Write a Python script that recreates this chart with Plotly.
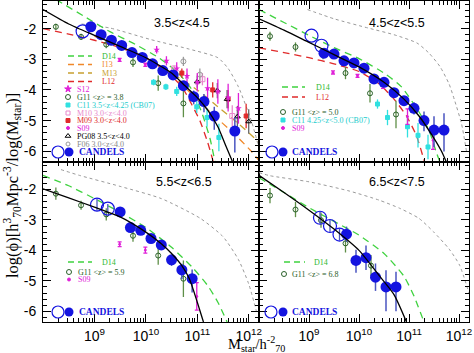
import math
import plotly.graph_objects as go

# ===================== DATA =====================
# x: log10(M_star / h70^-2), y: log(phi)

# ---------- 3.5<z<4.5 (top-left) ----------
z4_candels_m = [8.93, 9.13, 9.33, 9.53, 9.73, 9.93, 10.13, 10.33, 10.53, 10.73, 10.93, 11.13, 11.33, 11.73]
z4_candels_y = [-1.94, -2.20, -2.38, -2.55, -2.78, -2.94, -3.15, -3.37, -3.51, -3.86, -4.22, -4.38, -4.85, -5.34]
z4_candels_up = [0.05, 0.05, 0.05, 0.05, 0.05, 0.05, 0.06, 0.08, 0.10, 0.15, 0.20, 0.25, 0.30, 0.45]
z4_candels_lo = [0.05, 0.05, 0.05, 0.05, 0.05, 0.05, 0.06, 0.08, 0.10, 0.18, 0.25, 0.35, 0.45, 0.70]
z4_open_m = [8.77]
z4_open_y = [-2.09]
z4_fit_m = [8.0, 8.5, 9.0, 9.5, 10.0, 10.5, 10.75, 11.0, 11.2, 11.4, 11.55, 11.7]
z4_fit_y = [-1.38, -1.85, -2.22, -2.58, -2.95, -3.45, -3.85, -4.25, -4.65, -5.2, -5.8, -6.4]
z4_d14_m = [8.25, 8.8, 9.3, 9.8, 10.25, 10.6, 10.9, 11.1, 11.25, 11.35]
z4_d14_y = [-1.05, -1.6, -2.1, -2.52, -2.95, -3.4, -4.0, -4.8, -5.6, -6.4]
z4_i13_m = [9.0, 9.5, 10.0, 10.5, 10.9, 11.3, 11.7, 12.05, 12.2]
z4_i13_y = [-2.25, -2.6, -2.98, -3.5, -4.15, -4.8, -5.4, -6.0, -6.3]
z4_m13_m = [9.5, 10.0, 10.5, 11.0, 11.4, 11.8, 12.2]
z4_m13_y = [-2.6, -2.98, -3.45, -4.0, -4.55, -5.1, -5.7]
z4_l12_m = [8.0, 8.5, 9.0, 9.5, 10.0, 10.4, 10.7, 10.9, 11.05, 11.2, 11.32]
z4_l12_y = [-2.0, -2.18, -2.38, -2.62, -2.95, -3.4, -3.9, -4.5, -5.0, -5.7, -6.4]
z4_dot_m = [8.75, 9.3, 10.1, 10.8, 11.4, 11.6, 11.8, 12.05, 12.2]
z4_dot_y = [-1.85, -1.98, -2.36, -2.65, -2.95, -3.3, -3.9, -5.0, -5.9]
z4_g11_m = [8.25, 8.74, 9.23, 9.75, 10.24, 10.73]
z4_g11_y = [-1.94, -2.27, -2.52, -3.10, -3.78, -4.44]
z4_g11_e = [0.10, 0.10, 0.12, 0.15, 0.25, 0.45]
z4_s12_m = [10.21, 10.40, 10.60, 10.80, 11.00, 11.20, 11.40, 11.60, 11.80]
z4_s12_y = [-2.69, -3.05, -3.30, -3.55, -3.75, -3.95, -4.05, -4.25, -4.60]
z4_s12_e = [0.12, 0.15, 0.20, 0.25, 0.30, 0.35, 0.40, 0.45, 0.50]
z4_c11_m = [10.15, 10.39, 10.60, 10.99, 11.19, 11.42]
z4_c11_y = [-3.75, -3.90, -4.05, -4.55, -4.90, -5.55]
z4_c11_e = [0.10, 0.10, 0.15, 0.20, 0.30, 0.45]
z4_m10_m = [10.55, 11.10, 11.68]
z4_m10_y = [-3.30, -3.65, -4.85]
z4_m10_e = [0.10, 0.20, 0.35]
z4_m09_m = [10.70, 11.30, 11.60, 11.95]
z4_m09_y = [-3.45, -4.00, -4.30, -4.85]
z4_m09_e = [0.15, 0.25, 0.30, 0.40]
z4_s09_m = [9.49, 9.99]
z4_s09_y = [-3.02, -3.18]
z4_s09_e = [0.05, 0.05]
z4_pg08_m = [11.00, 11.39, 11.58, 11.78, 12.00]
z4_pg08_y = [-3.73, -4.02, -4.30, -4.87, -5.03]
z4_pg08_e = [0.20, 0.25, 0.30, 0.35, 0.40]
z4_f06_m = [10.73, 11.05]
z4_f06_y = [-3.07, -3.50]
z4_f06_e = [0.15, 0.20]

# ---------- 4.5<z<5.5 (top-right) ----------
z5_candels_m = [9.3, 9.5, 9.7, 9.9, 10.1, 10.3, 10.5, 10.7, 10.9, 11.1, 11.3, 11.5, 11.7]
z5_candels_y = [-2.80, -2.83, -3.05, -3.12, -3.29, -3.64, -3.75, -4.09, -4.35, -4.60, -5.00, -5.31, -5.31]
z5_candels_up = [0.05, 0.05, 0.05, 0.05, 0.06, 0.08, 0.10, 0.12, 0.15, 0.20, 0.30, 0.45, 0.55]
z5_candels_lo = [0.05, 0.05, 0.05, 0.05, 0.06, 0.08, 0.10, 0.12, 0.15, 0.20, 0.35, 0.55, 0.70]
z5_open_m = [9.05, 9.25]
z5_open_y = [-2.23, -2.56]
z5_fit_m = [8.0, 8.5, 9.0, 9.5, 10.0, 10.5, 10.9, 11.2, 11.45, 11.65, 11.76]
z5_fit_y = [-1.68, -2.05, -2.45, -2.85, -3.25, -3.75, -4.3, -4.85, -5.45, -6.0, -6.4]
z5_d14_m = [8.0, 8.5, 9.0, 9.5, 10.0, 10.5, 10.85, 11.2, 11.4, 11.55, 11.63]
z5_d14_y = [-1.38, -1.8, -2.22, -2.62, -2.98, -3.45, -3.9, -4.72, -5.32, -6.05, -6.4]
z5_l12_m = [8.0, 8.5, 9.0, 9.5, 10.0, 10.4, 10.7, 10.95, 11.15, 11.32]
z5_l12_y = [-2.63, -2.78, -2.95, -3.15, -3.4, -3.8, -4.3, -4.85, -5.5, -6.4]
z5_dot_m = [8.97, 9.5, 10.18, 10.7, 11.16, 11.4, 11.62, 11.8, 11.91, 12.05, 12.15]
z5_dot_y = [-1.38, -1.68, -1.98, -2.2, -2.47, -2.8, -3.24, -3.8, -4.33, -5.1, -6.0]
z5_g11_m = [8.22, 8.73, 9.28, 9.73, 10.22, 10.74]
z5_g11_y = [-2.25, -2.60, -2.85, -3.45, -4.11, -4.80]
z5_g11_e = [0.15, 0.15, 0.15, 0.20, 0.30, 0.45]
z5_c11_m = [10.37, 10.57, 10.97, 11.18, 11.38]
z5_c11_y = [-4.46, -4.90, -5.20, -5.48, -5.86]
z5_c11_e = [0.15, 0.25, 0.35, 0.40, 0.40]
z5_s09_m = [9.48, 9.97, 10.48, 10.97, 11.48]
z5_s09_y = [-3.43, -3.54, -3.87, -4.87, -5.64]
z5_s09_e = [0.05, 0.05, 0.08, 0.25, 0.30]

# ---------- 5.5<z<6.5 (bottom-left) ----------
z6_candels_m = [9.5, 9.7, 9.9, 10.1, 10.3, 10.5, 10.7, 10.9]
z6_candels_y = [-2.74, -3.25, -3.34, -3.61, -3.82, -4.31, -4.64, -4.93]
z6_candels_up = [0.15, 0.05, 0.05, 0.06, 0.08, 0.15, 0.20, 0.30]
z6_candels_lo = [0.15, 0.05, 0.05, 0.06, 0.10, 0.20, 0.30, 0.45]
z6_open_m = [9.05, 9.26]
z6_open_y = [-2.50, -2.63]
z6_open_e = [0.20, 0.15]
z6_fit_m = [8.0, 8.5, 9.0, 9.5, 10.0, 10.3, 10.5, 10.7, 10.85, 11.0, 11.12]
z6_fit_y = [-1.98, -2.28, -2.58, -2.9, -3.4, -3.78, -4.1, -4.5, -4.95, -5.7, -6.35]
z6_d14_m = [8.0, 8.5, 9.0, 9.5, 10.0, 10.5, 10.9, 11.2, 11.4, 11.58]
z6_d14_y = [-1.54, -1.88, -2.3, -2.75, -3.25, -3.9, -4.55, -5.15, -5.7, -6.35]
z6_dot_m = [8.35, 8.71, 9.5, 10.3, 11.06, 11.5, 11.8, 12.0, 12.15]
z6_dot_y = [-1.35, -1.54, -1.9, -2.3, -2.95, -3.55, -4.3, -5.1, -6.0]
z6_g11_m = [8.25, 8.74, 9.23, 9.75, 10.24, 10.73]
z6_g11_y = [-2.14, -2.52, -2.82, -3.52, -4.17, -4.93]
z6_g11_e = [0.20, 0.15, 0.20, 0.20, 0.30, 0.60]
z6_s09_m = [9.49, 9.99, 10.49, 10.99]
z6_s09_y = [-3.80, -3.99, -4.31, -5.51]
z6_s09_e = [0.08, 0.10, 0.12, 0.45]

# ---------- 6.5<z<7.5 (bottom-right) ----------
z7_candels_m = [9.75, 9.94, 10.14, 10.33, 10.54, 10.74]
z7_candels_y = [-3.47, -4.33, -4.24, -4.88, -5.20, -5.20]
z7_candels_up = [0.25, 0.35, 0.40, 0.45, 0.55, 0.50]
z7_candels_lo = [0.25, 0.40, 0.40, 0.45, 0.80, 0.80]
z7_open_m = [9.22, 9.42, 9.61]
z7_open_y = [-2.93, -3.20, -3.48]
z7_open_e = [0.20, 0.20, 0.20]
z7_fit_m = [8.0, 8.5, 9.0, 9.5, 10.0, 10.4, 10.7, 10.95]
z7_fit_y = [-1.54, -2.1, -2.68, -3.3, -4.0, -4.82, -5.45, -6.35]
z7_d14_m = [8.0, 8.5, 9.0, 9.5, 10.0, 10.5, 10.9, 11.1, 11.3]
z7_d14_y = [-1.62, -2.1, -2.6, -3.05, -3.5, -4.1, -4.85, -5.5, -6.35]
z7_dot_m = [8.0, 8.22, 9.0, 9.8, 10.4, 10.83, 11.2, 11.49, 11.8, 12.01, 12.2]
z7_dot_y = [-1.45, -1.55, -1.75, -2.05, -2.35, -2.63, -2.95, -3.39, -3.95, -4.48, -5.4]
z7_g11_m = [8.22, 8.73, 9.24, 9.73, 10.24]
z7_g11_y = [-2.20, -2.66, -3.01, -3.77, -4.50]
z7_g11_e = [0.25, 0.25, 0.25, 0.30, 0.35]

# tick labels
x_tickvals_log = [9, 10, 11, 12]
x_ticktext = ['10<sup>9</sup>', '10<sup>10</sup>', '10<sup>11</sup>', '10<sup>12</sup>']
y_tickvals = [-2, -3, -4, -5, -6]
y_ticktext = ['-2', '-3', '-4', '-5', '-6']
panel_labels = ['3.5<z<4.5', '4.5<z<5.5', '5.5<z<6.5', '6.5<z<7.5']

# ===================== STYLE / LAYOUT =====================
W, H = 474, 353
X0, X1, Y0, Y1 = 43, 469, 1, 322
XS, YS = 259, 162

C_BLUE = '#1414e0'
C_BLUE_ERR = '#4a55c0'
C_GREEN = '#3fd23f'
C_GREEN_T = '#2fb82f'
C_ORANGE = '#f0882a'
C_GOLD = '#c8a030'
C_RED = '#e02a2a'
C_MAG = '#e020d8'
C_DKGREEN = '#2a602a'
C_DKGREEN_ERR = '#5f8f48'
C_CYAN = '#30e0e0'
C_PINK = '#e888cc'
C_GRAY = '#9a9a9a'


def fx(px):
    return (px - X0) / (X1 - X0)


def fy(py):
    return (Y1 - py) / (Y1 - Y0)


def X(ms):
    return [10 ** m for m in ms]


fig = go.Figure()

axes = [('x', 'y'), ('x2', 'y2'), ('x3', 'y3'), ('x4', 'y4')]


def add_line(p, ms, ys, color, dash=None, width=1.3):
    xa, ya = axes[p]
    fig.add_trace(go.Scatter(x=X(ms), y=ys, mode='lines', xaxis=xa, yaxis=ya,
                             line=dict(color=color, width=width, dash=dash, shape='spline', smoothing=0.6),
                             hoverinfo='skip', showlegend=False))


def add_pts(p, ms, ys, symbol, color, size, err=None, errcolor=None, lo=None, cap=0, lw=1.0, ethick=1.3):
    xa, ya = axes[p]
    ey = None
    if err is not None:
        ey = dict(type='data', symmetric=lo is None, array=err, arrayminus=lo,
                  color=errcolor or color, thickness=ethick, width=cap)
    fig.add_trace(go.Scatter(x=X(ms), y=ys, mode='markers', xaxis=xa, yaxis=ya,
                             marker=dict(symbol=symbol, color=color, size=size,
                                         line=dict(color=color, width=lw)),
                             error_y=ey, hoverinfo='skip', showlegend=False))


DASH = '7px,5px'

# ---- panel 0: z4 ----
add_line(0, z4_dot_m, z4_dot_y, C_GRAY, 'dot', 1.0)
add_line(0, z4_i13_m, z4_i13_y, C_ORANGE, DASH)
add_line(0, z4_m13_m, z4_m13_y, C_GOLD, DASH)
add_line(0, z4_l12_m, z4_l12_y, C_RED, DASH)
add_line(0, z4_d14_m, z4_d14_y, C_GREEN, DASH)
add_pts(0, z4_g11_m, z4_g11_y, 'circle-open', C_DKGREEN, 5, z4_g11_e, C_DKGREEN_ERR)
add_pts(0, z4_c11_m, z4_c11_y, 'square', C_CYAN, 4, z4_c11_e, C_CYAN)
add_pts(0, z4_m10_m, z4_m10_y, 'square-open', C_PINK, 5, z4_m10_e, C_PINK)
add_pts(0, z4_f06_m, z4_f06_y, 'circle-open', C_GRAY, 5, z4_f06_e, C_GRAY)
add_pts(0, z4_m09_m, z4_m09_y, 'square', C_RED, 4, z4_m09_e, C_RED)
add_pts(0, z4_pg08_m, z4_pg08_y, 'triangle-up-open', 'black', 5, z4_pg08_e, '#666666')
add_pts(0, z4_s12_m, z4_s12_y, 'star', C_MAG, 5, z4_s12_e, C_MAG, lw=0)
add_pts(0, z4_s09_m, z4_s09_y, 'circle', C_MAG, 2, z4_s09_e, C_MAG, cap=2)
add_pts(0, z4_candels_m, z4_candels_y, 'circle', C_BLUE, 11, z4_candels_up, C_BLUE_ERR, lo=z4_candels_lo, lw=0, ethick=1.5)
add_pts(0, z4_open_m, z4_open_y, 'circle-open', C_BLUE, 13, lw=1.2)
add_line(0, z4_fit_m, z4_fit_y, 'black', None, 1.3)

# ---- panel 1: z5 ----
add_line(1, z5_dot_m, z5_dot_y, C_GRAY, 'dot', 1.0)
add_line(1, z5_l12_m, z5_l12_y, C_RED, DASH)
add_line(1, z5_d14_m, z5_d14_y, C_GREEN, DASH)
add_pts(1, z5_g11_m, z5_g11_y, 'circle-open', C_DKGREEN, 5, z5_g11_e, C_DKGREEN_ERR)
add_pts(1, z5_c11_m, z5_c11_y, 'square', C_CYAN, 4, z5_c11_e, C_CYAN)
add_pts(1, z5_s09_m, z5_s09_y, 'circle', C_MAG, 2, z5_s09_e, C_MAG, cap=2)
add_pts(1, z5_candels_m, z5_candels_y, 'circle', C_BLUE, 11, z5_candels_up, C_BLUE_ERR, lo=z5_candels_lo, lw=0, ethick=1.5)
add_pts(1, z5_open_m, z5_open_y, 'circle-open', C_BLUE, 13, lw=1.2)
add_line(1, z5_fit_m, z5_fit_y, 'black', None, 1.3)

# ---- panel 2: z6 ----
add_line(2, z6_dot_m, z6_dot_y, C_GRAY, 'dot', 1.0)
add_line(2, z6_d14_m, z6_d14_y, C_GREEN, DASH)
add_pts(2, z6_g11_m, z6_g11_y, 'circle-open', C_DKGREEN, 5, z6_g11_e, C_DKGREEN_ERR)
add_pts(2, z6_s09_m, z6_s09_y, 'circle', C_MAG, 2, z6_s09_e, C_MAG, cap=2)
add_pts(2, z6_candels_m, z6_candels_y, 'circle', C_BLUE, 11, z6_candels_up, C_BLUE_ERR, lo=z6_candels_lo, lw=0, ethick=1.5)
add_pts(2, z6_open_m, z6_open_y, 'circle-open', C_BLUE, 13, z6_open_e, C_BLUE_ERR, lw=1.2)
add_line(2, z6_fit_m, z6_fit_y, 'black', None, 1.3)

# ---- panel 3: z7 ----
add_line(3, z7_dot_m, z7_dot_y, C_GRAY, 'dot', 1.0)
add_line(3, z7_d14_m, z7_d14_y, C_GREEN, DASH)
add_pts(3, z7_g11_m, z7_g11_y, 'circle-open', C_DKGREEN, 5, z7_g11_e, C_DKGREEN_ERR)
add_pts(3, z7_candels_m, z7_candels_y, 'circle', C_BLUE, 11, z7_candels_up, C_BLUE_ERR, lo=z7_candels_lo, lw=0, ethick=1.5)
add_pts(3, z7_open_m, z7_open_y, 'circle-open', C_BLUE, 13, z7_open_e, C_BLUE_ERR, lw=1.2)
add_line(3, z7_fit_m, z7_fit_y, 'black', None, 1.3)

# ---- axes ----
minor_x = [k * 10 ** d for d in range(8, 13) for k in range(2, 10) if 8 <= d + math.log10(k) <= 12.2]

xdoms = [[0, fx(XS)], [fx(XS), 1], [0, fx(XS)], [fx(XS), 1]]
ydoms = [[fy(YS), 1], [fy(YS), 1], [0, fy(YS)], [0, fy(YS)]]

tickfont = dict(family='Liberation Sans, Arial, sans-serif', size=14, color='black')
layout_axes = {}
for i in range(4):
    sx = '' if i == 0 else str(i + 1)
    layout_axes['xaxis' + sx] = dict(
        domain=xdoms[i], anchor='y' + sx, type='log', range=[8, 12.2],
        tickmode='array', tickvals=[10 ** v for v in x_tickvals_log], ticktext=x_ticktext,
        showticklabels=(i >= 2), ticks='inside', ticklen=8, tickwidth=1, tickcolor='black',
        minor=dict(ticks='inside', ticklen=4, tickwidth=1, tickcolor='black', tickmode='array', tickvals=minor_x),
        showline=True, linecolor='black', linewidth=1, mirror='allticks',
        showgrid=False, zeroline=False, tickfont=tickfont, ticklabelstandoff=1)
    layout_axes['yaxis' + sx] = dict(
        domain=ydoms[i], anchor='x' + sx, range=[-6.35, -1.1],
        tickmode='array', tickvals=y_tickvals, ticktext=y_ticktext,
        showticklabels=(i in (0, 2)), ticks='inside', ticklen=8, tickwidth=1, tickcolor='black',
        minor=dict(ticks='inside', ticklen=4, tickwidth=1, tickcolor='black', dtick=0.2, tick0=0),
        showline=True, linecolor='black', linewidth=1, mirror='allticks',
        showgrid=False, zeroline=False, tickfont=tickfont, ticklabelstandoff=3)

# pixel overlay axes for legend keys
layout_axes['xaxis5'] = dict(domain=[0, 1], anchor='y5', range=[X0, X1], visible=False, fixedrange=True)
layout_axes['yaxis5'] = dict(domain=[0, 1], anchor='x5', range=[Y1, Y0], visible=False, fixedrange=True)

fig.update_layout(width=W, height=H, margin=dict(l=X0, r=W - X1, t=Y0, b=H - Y1),
                  paper_bgcolor='white', plot_bgcolor='rgba(0,0,0,0)', showlegend=False,
                  **layout_axes)

SERIF = 'Liberation Serif, Times New Roman, serif'
SANS = 'Liberation Sans, Arial, sans-serif'
annots = []
shapes = []
LEG = 8


def txt(px, py, s, color, size=LEG, family=SERIF, anchor='left', **kw):
    annots.append(dict(x=px, y=py, xref='x5', yref='y5', text=s, showarrow=False,
                       xanchor=anchor, yanchor='middle', font=dict(family=family, size=size, color=color), **kw))


def dline(px0, px1, py, color):
    shapes.append(dict(type='line', xref='x5', yref='y5', x0=px0, x1=px1, y0=py, y1=py,
                       line=dict(color=color, width=1.3, dash='6px,4px')))


def key(px, py, symbol, color, size, lw=1.0):
    fig.add_trace(go.Scatter(x=[px], y=[py], mode='markers', xaxis='x5', yaxis='y5',
                             marker=dict(symbol=symbol, color=color, size=size, line=dict(color=color, width=lw)),
                             hoverinfo='skip', showlegend=False))


def candels_key(px_open, px_fill, px_text, py):
    key(px_open, py, 'circle-open', C_BLUE, 12, 1.2)
    key(px_fill, py, 'circle', C_BLUE, 9, 0)
    txt(px_text, py, '<b>CANDELS</b>', C_BLUE, 9.5)


# top-left legend
dline(68, 92, 56, C_GREEN); txt(100, 56, 'D14', C_GREEN_T)
dline(68, 92, 64.5, C_ORANGE); txt(100, 64.5, 'I13', C_ORANGE)
dline(68, 92, 73, C_GOLD); txt(100, 73, 'M13', C_GOLD)
dline(68, 92, 81.5, C_RED); txt(100, 81.5, 'L12', C_RED)
rows = [
    (89, 'star', C_MAG, 5, 'S12', C_MAG),
    (97, 'circle-open', C_DKGREEN, 5, 'G11 &lt;z&gt; = 3.8', C_DKGREEN),
    (105, 'square', C_CYAN, 4, 'C11 3.5&lt;z&lt;4.25 (CB07)', '#22cccc'),
    (113, 'square-open', C_PINK, 4, 'M10 3.0&lt;z&lt;4.0', C_PINK),
    (120.5, 'square', C_RED, 4, 'M09 3.0&lt;z&lt;4.0', C_RED),
    (128, 'circle', C_MAG, 3, 'S09', C_MAG),
    (136, 'triangle-up-open', 'black', 5, 'PG08 3.5&lt;z&lt;4.0', 'black'),
    (144, 'circle-open', C_GRAY, 4, 'F06 3.0&lt;z&lt;4.0', '#888888'),
]
for py, sym, col, sz, label, tcol in rows:
    key(68, py, sym, col, sz)
    txt(75, py, label, tcol)
candels_key(58, 69, 77, 152)

# top-right legend
dline(282, 305, 87, C_GREEN); txt(314, 87, 'D14', C_GREEN_T)
dline(282, 305, 97, C_RED); txt(314, 97, 'L12', C_RED)
key(283, 112, 'circle-open', C_DKGREEN, 5); txt(290, 112, 'G11 &lt;z&gt; = 5.0', C_DKGREEN)
key(283, 120, 'square', C_CYAN, 4); txt(290, 120, 'C11 4.25&lt;z&lt;5.0 (CB07)', '#22cccc')
key(283, 128, 'circle', C_MAG, 3); txt(290, 128, 'S09', C_MAG)
candels_key(272, 283, 290, 152)

# bottom-left legend
dline(68, 92, 262, C_GREEN); txt(100, 262, 'D14', C_GREEN_T)
key(69, 272, 'circle-open', C_DKGREEN, 5); txt(76, 272, 'G11 &lt;z&gt; = 5.9', C_DKGREEN)
key(69, 279.5, 'circle', C_MAG, 3); txt(76, 279.5, 'S09', C_MAG)
candels_key(58, 69, 77, 312)

# bottom-right legend
dline(284, 305, 262, C_GREEN); txt(312, 262, 'D14', C_GREEN_T)
key(284, 274, 'circle-open', C_DKGREEN, 5); txt(290, 274, 'G11 &lt;z&gt; = 6.8', C_DKGREEN)
candels_key(271, 283, 290, 312)

# panel labels
for (px, py), lab in zip([(182, 23), (397, 23), (184, 182), (397, 182)], panel_labels):
    txt(px, py, lab, 'black', 12.5, SANS, anchor='center')

# axis titles (paper coordinates = plot-area fractions)
annots.append(dict(x=fx(12), y=fy(186), xref='paper', yref='paper', xanchor='center', yanchor='middle',
                   text='log(ϕ)[h<sup>3</sup><sub>70</sub>Mpc<sup>-3</sup>/log(M<sub>star</sub>)]',
                   textangle=-90, showarrow=False, font=dict(family=SERIF, size=16.5, color='black')))
annots.append(dict(x=fx(256), y=fy(343.5), xref='paper', yref='paper', xanchor='center', yanchor='middle',
                   text='M<sub>star</sub>/h<sup>-2</sup><sub>70</sub>', showarrow=False,
                   font=dict(family=SERIF, size=14.5, color='black')))

fig.update_layout(annotations=annots, shapes=shapes)
fig.write_html('out.html')
